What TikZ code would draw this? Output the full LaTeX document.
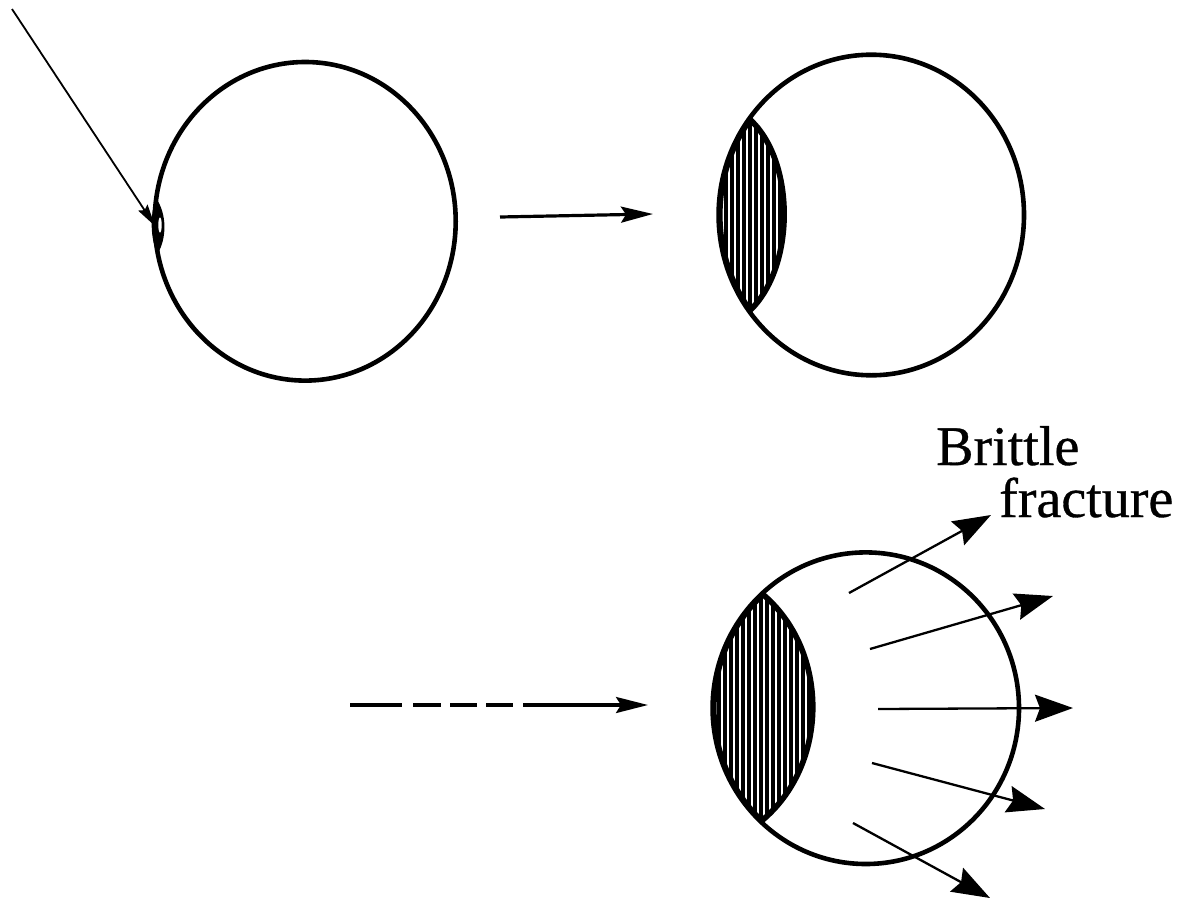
\documentclass[tikz,border=0pt]{standalone}
\usepackage{fontspec}
\setmainfont{Liberation Serif}
\newfontfamily\labelfont[FakeBold=0.6]{Liberation Serif}
\usetikzlibrary{arrows.meta}
\begin{document}
\begin{tikzpicture}[x=1pt,y=-1pt,
  rim/.style={line width=4.6pt},
  thinarrow/.style={line width=1.8pt, -{Stealth[length=22pt,width=11pt,inset=3pt]}},
  midarrow/.style={line width=3.2pt, -{Stealth[length=32pt,width=16pt,inset=5pt]}},
  fracarrow/.style={line width=2.3pt, -{Stealth[length=38pt,width=27pt,inset=5pt]}},
  stripes/.style={white, line width=2.8pt},
  txt/.style={font=\labelfont\fontsize{56}{60}\selectfont, inner sep=0pt, anchor=base west}]
\useasboundingbox (0,0) rectangle (1191,902);
\fill[white] (0,0) rectangle (1191,902);

% ---- first sphere: incoming particle and initial small damage zone
\coordinate (c1) at (305.2,221.3);
\draw[rim] (c1) ellipse [x radius=150.5, y radius=159.3];
\fill (156,198) .. controls (167,214) and (167,238) .. (157.5,254)
      .. controls (150,238) and (150,214) .. (156,198);
\fill[white] (160,225) ellipse [x radius=1.7, y radius=7.5];
\coordinate (p0) at (12,9);
\coordinate (p1) at (155,226);
\draw[thinarrow] (p0) -- (p1);

% ---- arrow to second stage
\coordinate (m0) at (500,217);
\coordinate (m1) at (653,214);
\draw[midarrow] (m0) -- (m1);

% ---- second sphere: grown hatched zone
\coordinate (c2) at (871.3,215);
\begin{scope}
  \clip (c2) ellipse [x radius=152.7, y radius=160.3];
  \clip (750,118) .. controls (797,160) and (797,268) .. (750,312)
        -- (700,330) -- (700,100) -- cycle;
  \fill (700,100) rectangle (800,330);
  \foreach \x in {723,729,...,790} \draw[stripes] (\x,100) -- (\x,330);
  \draw[line width=8pt] (c2) ellipse [x radius=152.7, y radius=160.3];
  \draw[line width=8pt] (750,118) .. controls (797,160) and (797,268) .. (750,312);
\end{scope}
\draw[line width=3.4pt] (750,118) .. controls (797,160) and (797,268) .. (750,312);
\draw[rim] (c2) ellipse [x radius=152.7, y radius=160.3];

% ---- dashed arrow to final stage
\coordinate (d0) at (350,705);
\coordinate (d1) at (648,705);
\draw[midarrow, dash pattern=on 52pt off 11pt on 28pt off 9pt on 27pt off 9pt on 27pt off 10pt on 400pt] (d0) -- (d1);

% ---- third sphere: hatched zone and brittle fracture
\coordinate (c3) at (865.8,708.2);
\begin{scope}
  \clip (c3) ellipse [x radius=153.2, y radius=155.8];
  \clip (763,593) .. controls (831,650) and (831,765) .. (762,822)
        -- (690,840) -- (690,575) -- cycle;
  \fill (690,575) rectangle (840,840);
  \foreach \x in {716,722,...,830} \draw[stripes] (\x,575) -- (\x,840);
  \draw[line width=8pt] (c3) ellipse [x radius=153.2, y radius=155.8];
  \draw[line width=8pt] (763,593) .. controls (831,650) and (831,765) .. (762,822);
\end{scope}
\draw[line width=3.4pt] (763,593) .. controls (831,650) and (831,765) .. (762,822);
\draw[rim] (c3) ellipse [x radius=153.2, y radius=155.8];

\coordinate (a0) at (849,593);  \coordinate (a1) at (991,515);
\coordinate (b0) at (870,649);  \coordinate (b1) at (1053,596);
\coordinate (e0) at (878,709);  \coordinate (e1) at (1073,708);
\coordinate (f0) at (872,763);  \coordinate (f1) at (1045,809);
\coordinate (g0) at (853,823);  \coordinate (g1) at (990,898);
\draw[fracarrow] (a0) -- (a1);
\draw[fracarrow] (b0) -- (b1);
\draw[fracarrow] (e0) -- (e1);
\draw[fracarrow] (f0) -- (f1);
\draw[fracarrow] (g0) -- (g1);

\node[txt] (t1) at (936,465) {Brittle};
\node[txt] (t2) at (999,517) {fracture};
\end{tikzpicture}
\end{document}
